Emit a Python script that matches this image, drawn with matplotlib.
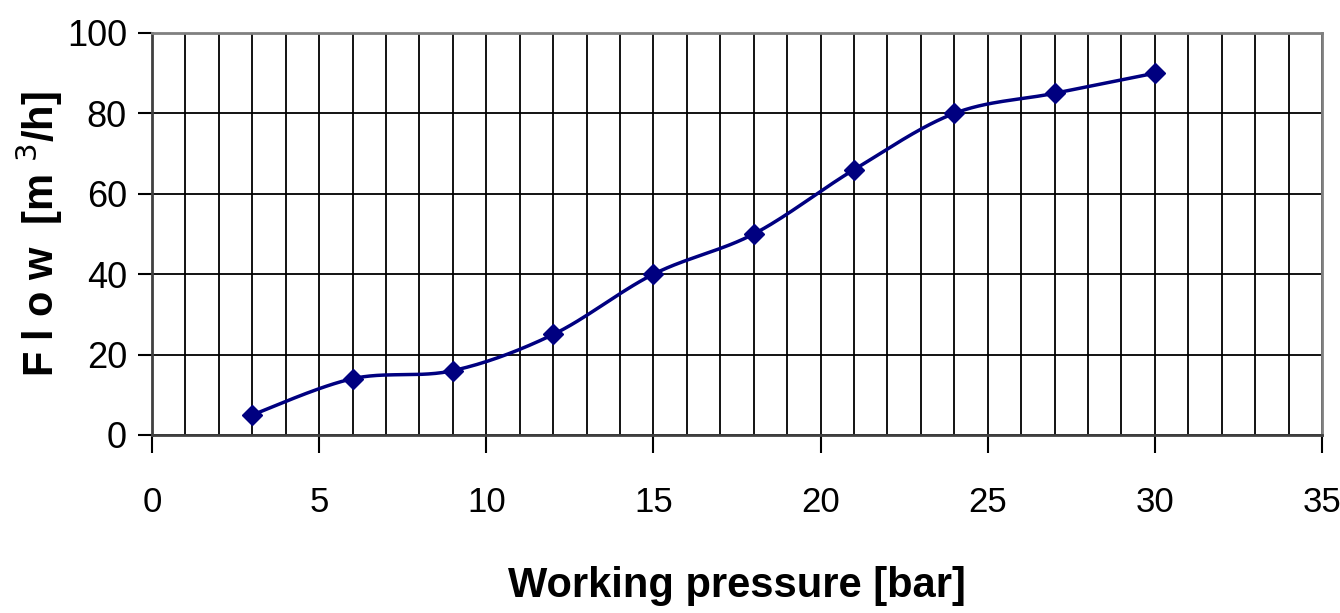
import matplotlib
matplotlib.use("Agg")
import matplotlib.pyplot as plt
import numpy as np
from matplotlib.ticker import MultipleLocator

# data
pressure = [3, 6, 9, 12, 15, 18, 21, 24, 27, 30]
flow = [5, 14, 16, 25, 40, 50, 66, 80, 85, 90]

x_ticks = [0, 5, 10, 15, 20, 25, 30, 35]
y_ticks = [0, 20, 40, 60, 80, 100]

NAVY = "#000080"
FONT = ["Liberation Sans", "DejaVu Sans"]


def smooth_curve(x, y, n=30):
    """Excel-style smoothed line (Catmull-Rom through the points)."""
    x = np.asarray(x, float)
    y = np.asarray(y, float)
    px = np.concatenate([[x[0]], x, [x[-1]]])
    py = np.concatenate([[y[0]], y, [y[-1]]])
    xs, ys = [], []
    t = np.linspace(0, 1, n)
    for i in range(1, len(px) - 2):
        p0, p1, p2, p3 = [np.array([px[j], py[j]]) for j in (i - 1, i, i + 1, i + 2)]
        c1 = p1 + (p2 - p0) / 6.0
        c2 = p2 - (p3 - p1) / 6.0
        for tt in t:
            b = ((1 - tt) ** 3) * p1 + 3 * ((1 - tt) ** 2) * tt * c1 \
                + 3 * (1 - tt) * tt ** 2 * c2 + tt ** 3 * p2
            xs.append(b[0])
            ys.append(b[1])
    return np.array(xs), np.array(ys)


fig = plt.figure(figsize=(13.4, 6.13), dpi=100)
ax = fig.add_axes([0.1134, 0.2904, 0.8732, 0.6558])

sx, sy = smooth_curve(pressure, flow)
ax.plot(sx, sy, color=NAVY, lw=2.5, zorder=3)
ax.plot(pressure, flow, linestyle="none", marker="D", markersize=10,
        color=NAVY, zorder=4)

ax.set_xlim(0, 35)
ax.set_ylim(0, 100)
ax.set_xticks(x_ticks)
ax.set_yticks(y_ticks)
ax.xaxis.set_minor_locator(MultipleLocator(1))

ax.grid(True, which="major", axis="y", color="black", lw=1.3)
ax.grid(True, which="both", axis="x", color="black", lw=1.3)

for side in ("top", "right"):
    ax.spines[side].set_color("#808080")
    ax.spines[side].set_linewidth(2)
for side in ("left", "bottom"):
    ax.spines[side].set_color("#404040")
    ax.spines[side].set_linewidth(2)

ax.tick_params(axis="x", which="major", length=13, width=1.5, pad=24,
               labelsize=25, direction="out")
ax.tick_params(axis="x", which="minor", length=0)
ax.tick_params(axis="y", which="major", length=10, width=1.5, pad=8,
               labelsize=26, direction="out")
for lbl in ax.get_xticklabels() + ax.get_yticklabels():
    lbl.set_family(FONT)

ax.set_xlabel("Working pressure [bar]", family=FONT, fontsize=30,
              fontweight="bold")
ax.set_ylabel("F l o w  [m $^3$/h]", family=FONT, fontsize=30,
              fontweight="bold")
ax.xaxis.set_label_coords(0.5, -0.325)
ax.yaxis.set_label_coords(-0.074, 0.5)

fig.savefig("out.png", dpi=100)
